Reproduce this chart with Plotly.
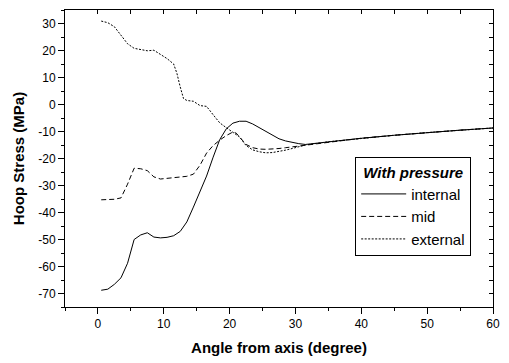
import plotly.graph_objects as go

# ---- data ----
x_internal = [0.5, 1.5, 2.5, 3.5, 4.5, 5.5, 6.5, 7.5, 8.5, 9.5, 10.5, 11.5, 12.5, 13.5, 14.5,
              15.5, 16.5, 17.5, 18.5, 19.5, 20.5, 21.5, 22.5, 23.5, 24.5, 25.5, 26.5, 27.5,
              28.5, 29.5, 30.5, 31.5, 35, 40, 45, 50, 55, 60]
y_internal = [-68.8, -68.4, -66.6, -64.2, -58.8, -50.0, -48.3, -47.5, -49.1, -49.4, -49.2,
              -48.6, -47.0, -43.5, -38.0, -32.5, -26.5, -19.5, -13.0, -9.0, -6.9, -6.2, -6.2,
              -7.2, -8.6, -10.2, -11.6, -12.7, -13.5, -14.1, -14.5, -14.8, -13.8, -12.5,
              -11.4, -10.4, -9.5, -8.7]

x_mid = [0.5, 1.5, 2.5, 3.5, 4.5, 5.5, 6.5, 7.5, 8.5, 9.5, 10.5, 11.5, 12.5, 13.5, 14.5,
         15.5, 16.5, 17.5, 18.5, 19.5, 20.5, 21.0, 21.5, 22.5, 23.5, 24.5, 25.5, 26.5, 27.5,
         28.5, 29.5, 30.5, 31.5, 35, 40, 45, 50, 55, 60]
y_mid = [-35.3, -35.2, -35.1, -34.6, -29.5, -23.6, -23.8, -24.5, -26.8, -27.6, -27.3, -27.0,
         -26.8, -26.6, -25.8, -22.5, -18.0, -15.2, -13.2, -11.5, -10.2, -10.6, -12.0, -14.8,
         -16.0, -16.5, -16.6, -16.5, -16.3, -16.0, -15.7, -15.3, -15.0, -13.8, -12.5, -11.4,
         -10.4, -9.5, -8.7]

x_external = [0.5, 1.5, 2.5, 3.5, 4.5, 5.5, 6.5, 7.5, 8.5, 9.5, 10.5, 11.5, 12.0, 12.5, 13.0,
              13.5, 14.5, 15.5, 16.5, 17.5, 18.5, 19.5, 20.5, 21.5, 22.5, 23.5, 24.5, 25.5,
              26.5, 27.5, 28.5, 29.5, 30.5, 31.5, 35, 40, 45, 50, 55, 60]
y_external = [30.9, 30.3, 28.8, 25.5, 22.5, 20.8, 20.3, 19.9, 20.1, 18.6, 17.0, 15.0, 11.5,
              6.5, 2.2, 1.5, 1.2, -0.4, -0.7, -3.8, -6.8, -8.6, -10.3, -12.0, -15.2, -16.8,
              -17.5, -17.9, -17.8, -17.4, -16.9, -16.3, -15.6, -15.0, -13.8, -12.5, -11.4,
              -10.4, -9.5, -8.7]

x_ticks = [0, 10, 20, 30, 40, 50, 60]
y_ticks = [30, 20, 10, 0, -10, -20, -30, -40, -50, -60, -70]

FONT = "Liberation Sans, Arial, sans-serif"

fig = go.Figure()
fig.add_trace(go.Scatter(x=x_internal, y=y_internal, mode="lines", name="internal",
                         line=dict(color="black", width=1)))
fig.add_trace(go.Scatter(x=x_mid, y=y_mid, mode="lines", name="mid",
                         line=dict(color="black", width=1, dash="5px,3px")))
fig.add_trace(go.Scatter(x=x_external, y=y_external, mode="lines", name="external",
                         line=dict(color="black", width=1, dash="2px,1.5px")))
# dummy trace to host the mirrored (inward-tick) top/right axes
fig.add_trace(go.Scatter(x=[None], y=[None], xaxis="x2", yaxis="y2", showlegend=False,
                         hoverinfo="skip", mode="lines"))

fig.update_layout(
    width=509, height=363,
    margin=dict(l=64.5, r=11, t=9, b=55.3),
    paper_bgcolor="white", plot_bgcolor="white",
    font=dict(family=FONT, color="black", size=12),
    showlegend=True,
    legend=dict(
        x=0.678, y=0.5045, xanchor="left", yanchor="top",
        bgcolor="white", bordercolor="black", borderwidth=1,
        font=dict(family=FONT, size=15, color="black"),
        title=dict(text="<b><i>With pressure</i></b>", side="top center",
                   font=dict(family=FONT, size=15, color="black")),
        tracegroupgap=0,
        itemwidth=45,
    ),
    xaxis=dict(
        range=[-5, 60], tickvals=x_ticks, ticktext=[str(v) for v in x_ticks],
        ticks="outside", ticklen=6, tickwidth=1, tickcolor="black",
        showline=True, linecolor="black", linewidth=1, mirror=True,
        showgrid=False, zeroline=False,
        tickfont=dict(family=FONT, size=12, color="black"),
        minor=dict(dtick=5, tick0=0, ticks="outside", ticklen=3, tickcolor="black", showgrid=False),
        title=dict(text="<b>Angle from axis (degree)</b>", standoff=12,
                   font=dict(family=FONT, size=15, color="black")),
    ),
    yaxis=dict(
        range=[-75, 35], tickvals=y_ticks, ticktext=[str(v) for v in y_ticks],
        ticks="outside", ticklen=6, tickwidth=1, tickcolor="black",
        showline=True, linecolor="black", linewidth=1, mirror=True,
        showgrid=False, zeroline=False,
        tickfont=dict(family=FONT, size=12, color="black"),
        minor=dict(dtick=5, tick0=0, ticks="outside", ticklen=3, tickcolor="black", showgrid=False),
        title=dict(text="<b>Hoop Stress (MPa)</b>", standoff=10,
                   font=dict(family=FONT, size=15, color="black")),
    ),
    xaxis2=dict(
        range=[-5, 60], overlaying="x", side="top", anchor="y",
        dtick=5, tick0=0, ticks="inside", ticklen=4, tickcolor="black",
        showticklabels=False, showgrid=False, zeroline=False, showline=False,
    ),
    yaxis2=dict(
        range=[-75, 35], overlaying="y", side="right", anchor="x",
        dtick=5, tick0=0, ticks="inside", ticklen=4, tickcolor="black",
        showticklabels=False, showgrid=False, zeroline=False, showline=False,
    ),
)

fig.write_html("out.html")
